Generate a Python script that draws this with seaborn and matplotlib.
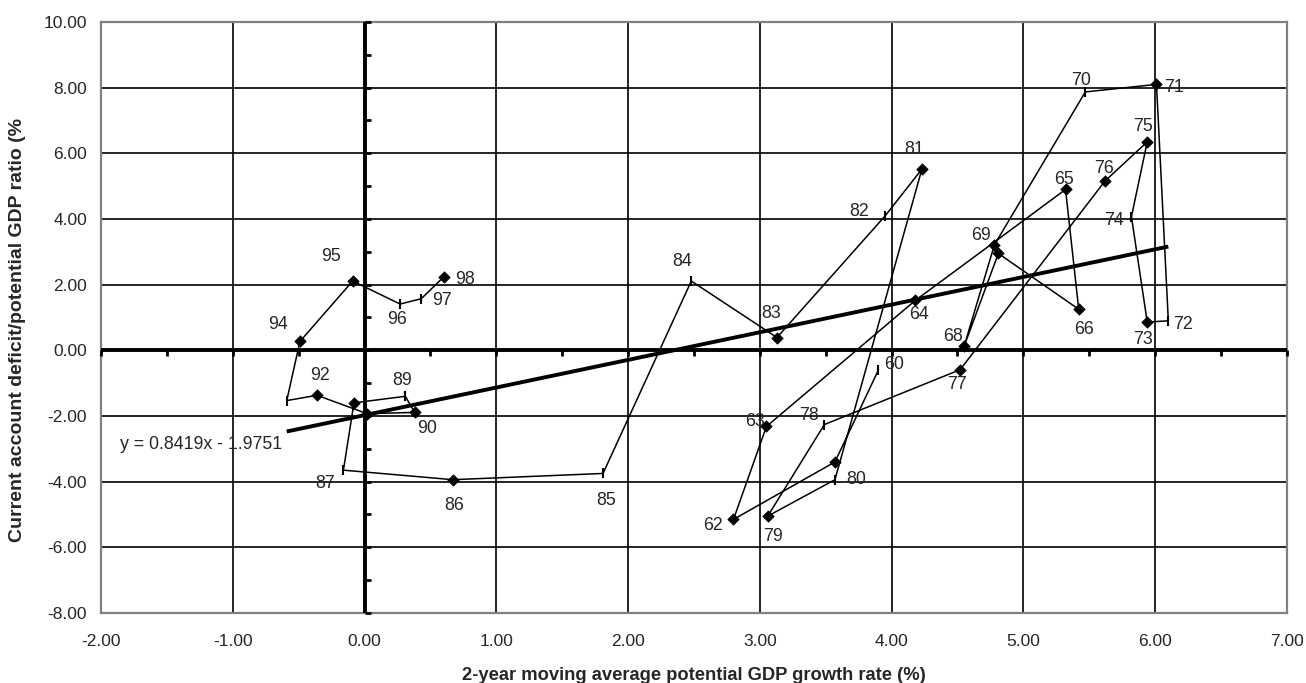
import numpy as np
import matplotlib
matplotlib.use("Agg")
import matplotlib.pyplot as plt
from matplotlib.ticker import FormatStrFormatter
import seaborn as sns

# data: year (19xx), growth rate, current account ratio
years = [60, 61, 62, 63, 64, 65, 66, 67, 68, 69, 70, 71, 72, 73, 74, 75, 76, 77, 78, 79,
         80, 81, 82, 83, 84, 85, 86, 87, 88, 89, 90, 91, 92, 93, 94, 95, 96, 97, 98]
growth = [3.90, 3.57, 2.80, 3.05, 4.18, 5.32, 5.42, 4.81, 4.55, 4.78, 5.47, 6.01, 6.10,
          5.94, 5.82, 5.94, 5.62, 4.52, 3.49, 3.06, 3.57, 4.23, 3.95, 3.13, 2.48, 1.81,
          0.67, -0.16, -0.08, 0.31, 0.38, 0.02, -0.36, -0.59, -0.49, -0.09, 0.27, 0.43, 0.60]
ca_ratio = [-0.60, -3.40, -5.15, -2.32, 1.52, 4.90, 1.25, 2.95, 0.12, 3.21, 7.87, 8.10, 0.90,
            0.86, 4.07, 6.35, 5.16, -0.59, -2.26, -5.05, -3.94, 5.52, 4.09, 0.39, 2.11, -3.75,
            -3.94, -3.65, -1.60, -1.40, -1.89, -1.93, -1.37, -1.53, 0.27, 2.11, 1.41, 1.57, 2.23]
unlabeled = [61, 67, 88, 91, 93]
diamond_years = [61, 62, 63, 64, 65, 66, 67, 68, 69, 71, 73, 75, 76, 77, 79, 81, 83, 86,
                 88, 90, 91, 92, 94, 95, 98]
slope, intercept = 0.8419, -1.9751

# label offsets in pixels (styling only)
label_off = {60: (16, 6), 62: (-20, -6), 63: (-11, 5), 64: (4, -14), 65: (-2, 10),
             66: (5, -20), 68: (-11, 10), 69: (-13, 9), 70: (-4, 11), 71: (18, -3),
             72: (15, -4), 73: (-4, -17), 74: (-17, -4), 75: (-4, 15), 76: (-1, 12),
             77: (-3, -15), 78: (-15, 9), 79: (5, -20), 80: (21, 0), 81: (-8, 20),
             82: (-26, 5), 83: (-6, 24), 84: (-9, 20), 85: (3, -27), 86: (1, -26),
             87: (-18, -13), 89: (-3, 16), 90: (12, -16), 92: (3, 20), 94: (-22, 17),
             95: (-22, 25), 96: (-3, -15), 97: (21, -2), 98: (21, -2)}

sns.set_style("white")
plt.rcParams["font.family"] = ["Liberation Sans", "DejaVu Sans"]

fig = plt.figure(figsize=(13.06, 6.83), dpi=100)
ax = fig.add_axes([0.0773, 0.1025, 0.9081, 0.8653])

# path through the years
sns.lineplot(x=growth, y=ca_ratio, sort=False, estimator=None, color="black",
             linewidth=1.1, ax=ax, zorder=4)

gx = np.array(growth)
gy = np.array(ca_ratio)
mask = np.array([yr in diamond_years for yr in years])
sns.scatterplot(x=gx[mask], y=gy[mask], marker="D", s=34, color="black",
                edgecolor="black", linewidth=0.5, ax=ax, zorder=5)
ax.plot(gx[~mask], gy[~mask], linestyle="none", marker="|", markersize=7,
        markeredgewidth=1.5, color="black", zorder=5)

# linear trend
tx = np.array([min(growth), max(growth)])
ax.plot(tx, slope * tx + intercept, color="black", linewidth=2.8, zorder=6,
        solid_capstyle="butt")
ax.text(-1.854, -2.87, "y = 0.8419x - 1.9751", fontsize=12.8, ha="left", va="center")

for yr, xv, yv in zip(years, growth, ca_ratio):
    if yr in unlabeled:
        continue
    dx, dy = label_off[yr]
    ax.annotate(str(yr), (xv, yv), xytext=(dx, dy), textcoords="offset pixels",
                ha="center", va="center", fontsize=12.8, zorder=7)

# axes, grid and zero lines
ax.set_xlim(-2, 7)
ax.set_ylim(-8, 10)
ax.set_xticks(np.arange(-2, 8, 1))
ax.set_yticks(np.arange(-8, 11, 2))
ax.xaxis.set_major_formatter(FormatStrFormatter("%.2f"))
ax.yaxis.set_major_formatter(FormatStrFormatter("%.2f"))
ax.grid(True, color="black", linewidth=1.2, zorder=1)
ax.set_axisbelow(True)
ax.tick_params(axis="both", length=0, labelsize=12.5)
ax.tick_params(axis="y", pad=10)
ax.tick_params(axis="x", pad=15)
for sp in ax.spines.values():
    sp.set_color("#808080")
    sp.set_linewidth(1.6)
    sp.set_visible(True)

ax.axhline(0, color="black", linewidth=2.8, zorder=3)
ax.axvline(0, color="black", linewidth=2.8, zorder=3)
hx = np.arange(-2, 7.01, 0.5)
ax.plot(hx, np.zeros_like(hx), linestyle="none", marker=3, markersize=4,
        markeredgewidth=2, color="black", zorder=3, clip_on=False)
vy = np.arange(-8, 10.01, 1)
ax.plot(np.zeros_like(vy), vy, linestyle="none", marker=1, markersize=4,
        markeredgewidth=2, color="black", zorder=3, clip_on=False)

ax.set_xlabel("2-year moving average potential GDP growth rate (%)", fontsize=13.2,
              fontweight="bold", labelpad=13)
fig.text(18 / 1306, 1 - 542 / 683, "Current account deficit/potential GDP ratio (%",
         rotation=90, ha="center", va="bottom", fontsize=14, fontweight="bold")

fig.savefig("out.png", dpi=100)
